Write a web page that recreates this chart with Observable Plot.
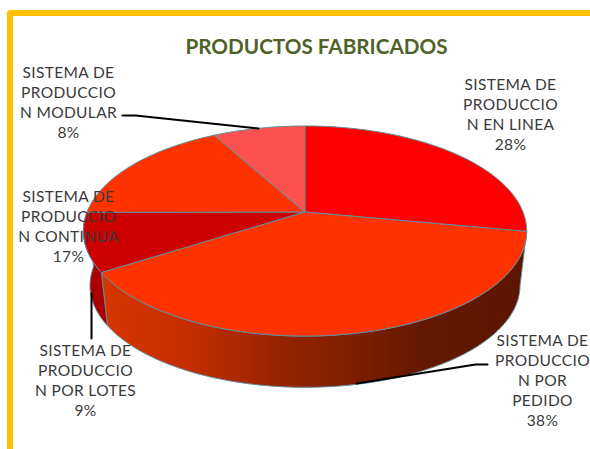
<!DOCTYPE html>
<html>
<head>
<meta charset="utf-8">
<script src="https://cdn.jsdelivr.net/npm/d3@7"></script>
<script src="https://cdn.jsdelivr.net/npm/@observablehq/plot@0.6"></script>
<style>
  html, body { margin: 0; padding: 0; background: #fff; overflow: hidden; }
  #chart { position: relative; width: 590px; height: 449px; overflow: hidden; }
  #frame { position: absolute; left: 7px; top: 10px; width: 700px; height: 600px; box-sizing: border-box;
           border-left: 6px solid #FFC000; border-top: 6px solid #FFC000; border-top-left-radius: 4px; }
  #chart svg { position: absolute; left: 0; top: 0; background: transparent; }
  #chart svg g.labels text { letter-spacing: 0.35px; }
</style>
</head>
<body>
<div id="chart"><div id="frame"></div></div>
<script>
const chartTitle = "PRODUCTOS FABRICADOS";
const categories = [
  "SISTEMA DE\nPRODUCCIO\nN EN LINEA",
  "SISTEMA DE\nPRODUCCIO\nN POR\nPEDIDO",
  "SISTEMA DE\nPRODUCCIO\nN POR LOTES",
  "SISTEMA DE\nPRODUCCIO\nN CONTINUA",
  "SISTEMA DE\nPRODUCCIO\nN MODULAR"
];
const shares = [28, 38, 9, 17, 8];
const topColors = ["#FF0000", "#FF3300", "#CC0000", "#FF3300", "#FF5050"];

// layout of the perspective pie
const apex = [305, 212], A = 218, B = 101.6, k = 0.181;
const wallScale = 0.97, wallDrop = 55;
const labelAnchors = [[510, 113], [542, 379], [85, 379], [68, 225], [68, 101]];
const leaderPaths = [
  [[122, 115], [135, 115], [258, 128]],
  [[91, 293], [91, 338]],
  [[356, 383], [475, 364], [487, 364]]
];

function rim(pct) {
  const t = pct / 100 * 2 * Math.PI, u = Math.sin(t), v = Math.cos(t), w = 1 + k * v;
  return [apex[0] + A * u / w, apex[1] - B * v / w];
}
function lowRim(pct) {
  const [x, y] = rim(pct);
  return [apex[0] + (x - apex[0]) * wallScale, apex[1] + (y - apex[1]) * wallScale + wallDrop];
}
function steps(a, b) {
  const n = Math.max(2, Math.ceil((b - a) * 4));
  return d3.range(n + 1).map(i => a + (b - a) * i / n);
}

const cum = d3.cumsum(shares);
const slices = shares.map((s, i) => ({start: cum[i] - s, end: cum[i], color: topColors[i], i}));

const topRows = slices.flatMap(s => steps(s.start, s.end).map(p => {
  const [x, y] = rim(p);
  return {i: s.i, color: s.color, x1: apex[0], y1: apex[1], x2: x, y2: y};
}));
const wallRows = [slices[1], slices[2]].flatMap(s => steps(s.start, s.end).map(p => {
  const [x, y] = rim(p), [lx, ly] = lowRim(p);
  return {i: s.i, x1: x, y1: y, x2: lx, y2: ly};
}));
const labelRows = categories.map((c, i) => ({
  text: `${c}\n${shares[i]}%`, x: labelAnchors[i][0], y: labelAnchors[i][1]
}));
const leaderRows = leaderPaths.flatMap((p, i) => p.map(([x, y]) => ({i, x, y})));

const edge = "#5F8FA0";
const wallStops = [[0, "#D63600"], [0.2, "#C42E00"], [0.4, "#9A2400"], [0.55, "#832000"], [0.75, "#651800"], [1, "#5C1500"]];

const gradient = () => {
  const defs = d3.create("svg:defs");
  const g = defs.append("linearGradient").attr("id", "wall").attr("gradientUnits", "userSpaceOnUse")
    .attr("x1", 105).attr("x2", 525).attr("y1", 0).attr("y2", 0);
  wallStops.forEach(([o, c]) => g.append("stop").attr("offset", o).attr("stop-color", c));
  return defs.node();
};

const plot = Plot.plot({
  width: 590, height: 449, margin: 0,
  x: {domain: [0, 590], range: [0, 590], axis: null},
  y: {domain: [0, 449], range: [0, 449], axis: null},
  marks: [
    gradient,
    Plot.area(wallRows.filter(d => d.i === 1), {x1: "x1", y1: "y1", x2: "x2", y2: "y2", fill: "url(#wall)", stroke: edge, strokeWidth: 1}),
    Plot.area(wallRows.filter(d => d.i === 2), {x1: "x1", y1: "y1", x2: "x2", y2: "y2", fill: "#AA0000", stroke: edge, strokeWidth: 1}),
    ...slices.map(s => Plot.area(topRows.filter(d => d.i === s.i), {x1: "x1", y1: "y1", x2: "x2", y2: "y2", fill: s.color, stroke: edge, strokeWidth: 1})),
    Plot.line(leaderRows, {x: "x", y: "y", z: "i", stroke: "#000", strokeWidth: 2, curve: "linear"}),
    Plot.text(labelRows, {x: "x", y: "y", text: "text", className: "labels", fontFamily: "Lato", fontSize: 15.5, lineHeight: 1.28, lineAnchor: "middle", textAnchor: "middle", fill: "#3A3A3A"}),
    Plot.text([chartTitle], {x: () => 316, y: () => 47, fontFamily: "Lato", fontWeight: "bold", fontSize: 20.7, fill: "#4F6228", textAnchor: "middle", lineAnchor: "middle"})
  ]
});
plot.querySelectorAll("g.labels").forEach(g => g.style.letterSpacing = "0.35px");
document.getElementById("chart").appendChild(plot);
</script>
</body>
</html>
